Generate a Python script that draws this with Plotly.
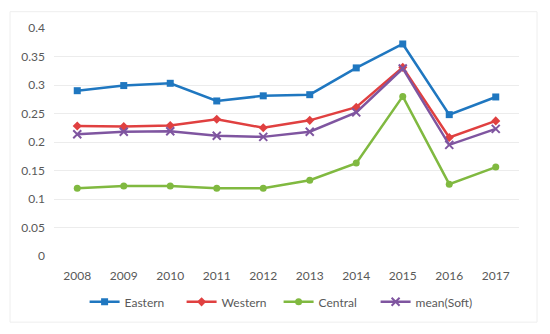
import plotly.graph_objects as go

years = ["2008", "2009", "2010", "2011", "2012", "2013", "2014", "2015", "2016", "2017"]
eastern = [0.290, 0.299, 0.303, 0.272, 0.281, 0.283, 0.330, 0.372, 0.248, 0.279]
western = [0.228, 0.227, 0.229, 0.240, 0.225, 0.238, 0.261, 0.331, 0.208, 0.237]
central = [0.119, 0.123, 0.123, 0.119, 0.119, 0.133, 0.163, 0.280, 0.126, 0.156]
mean_soft = [0.2135, 0.218, 0.219, 0.211, 0.209, 0.218, 0.252, 0.329, 0.195, 0.223]
yticks = [0, 0.05, 0.1, 0.15, 0.2, 0.25, 0.3, 0.35, 0.4]
ytick_text = ["0", "0.05", "0.1", "0.15", "0.2", "0.25", "0.3", "0.35", "0.4"]

series = [
    ("Eastern", eastern, "#1f77c0", "square", 7),
    ("Western", western, "#e04040", "diamond", 7),
    ("Central", central, "#80b940", "circle", 7),
    ("mean(Soft)", mean_soft, "#7f55a0", "x-thin", 8),
]

fig = go.Figure()
for name, vals, color, sym, sz in series:
    fig.add_trace(go.Scatter(
        x=years, y=vals, name=name, mode="lines+markers",
        line=dict(color=color, width=2.5),
        marker=dict(symbol=sym, size=sz, color=color,
                    line=dict(color=color, width=2 if sym == "x-thin" else 0)),
    ))

font = dict(family="Lato, Open Sans, sans-serif", size=12, color="#595959")
W, H = 542, 326
L, R, T, B = 46, 31, 17, 78
pw, ph = W - L - R, H - T - B
fig.update_layout(
    width=W, height=H,
    margin=dict(l=L, r=R, t=T, b=B),
    paper_bgcolor="white", plot_bgcolor="white",
    font=font,
    showlegend=True,
    legend=dict(orientation="h", x=0.483, xanchor="center", y=-0.201, yanchor="middle",
                font=font, tracegroupgap=0, entrywidth=52, entrywidthmode="pixels"),
    xaxis=dict(type="category", range=[-0.5, 9.5], showgrid=False, zeroline=False,
               showline=False, ticks="", tickfont=font, ticklabelstandoff=11),
    yaxis=dict(range=[0, 0.4], tickvals=yticks, ticktext=ytick_text,
               showgrid=True, gridcolor="#ececec", gridwidth=1, zeroline=False,
               showline=False, ticks="", ticklabelstandoff=8, tickfont=font),
    shapes=[dict(type="rect", xref="paper", yref="paper",
                 x0=(2 - L) / pw, x1=(529 - L) / pw,
                 y0=(T + ph - 315) / ph, y1=(T + ph - 0.5) / ph,
                 line=dict(color="#eeeeee", width=1), fillcolor="rgba(0,0,0,0)",
                 layer="below")],
)

fig.write_html("out.html")
